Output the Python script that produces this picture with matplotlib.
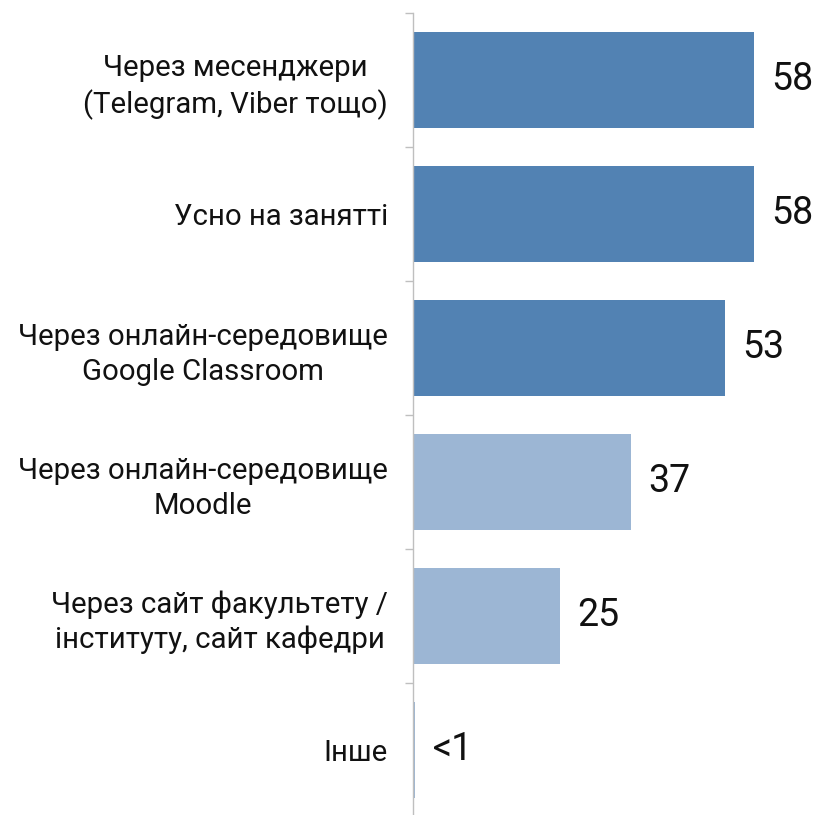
import matplotlib.pyplot as plt
import numpy as np

# дані
categories = [
    "Через месенджери\n(Telegram, Viber тощо)",
    "Усно на занятті",
    "Через онлайн-середовище\nGoogle Classroom",
    "Через онлайн-середовище\nMoodle",
    "Через сайт факультету /\nінституту, сайт кафедри",
    "Інше",
]
values = [58, 58, 53, 37, 25, 0.3]
value_labels = ["58", "58", "53", "37", "25", "<1"]

dark = "#5282b3"
light = "#9cb6d4"
colors = [dark, dark, dark, light, light, light]

plt.rcParams['font.family'] = ['Roboto', 'DejaVu Sans']

fig = plt.figure(figsize=(8.16, 8.15), dpi=100)
ax = fig.add_axes([413 / 816, 1 - 817 / 815, 1 - 413 / 816, 804 / 815])

y = np.arange(len(categories))
ax.barh(y, values, height=0.71, color=colors)

for yi, v, lab in zip(y, values, value_labels):
    ax.text(v + 3, yi, lab, va="center", ha="left", fontsize=27, color="#111111")

ax.set_ylim(len(categories) - 0.5, -0.5)
ax.set_xlim(0, 403 / 5.88)

ax.set_yticks(y)
ax.set_yticklabels(categories, fontsize=21.2, color="#111111",
                   linespacing=1.3, multialignment="center")
ax.set_yticks(np.arange(-0.5, len(categories), 1), minor=True)
ax.tick_params(axis="y", which="major", length=0, pad=18)
ax.tick_params(axis="y", which="minor", length=6, width=1, color="#bfbfbf")
ax.set_xticks([])

for s in ["top", "right", "bottom"]:
    ax.spines[s].set_visible(False)
ax.spines["left"].set_color("#bfbfbf")
ax.spines["left"].set_linewidth(1)

fig.savefig("out.png", dpi=100)
